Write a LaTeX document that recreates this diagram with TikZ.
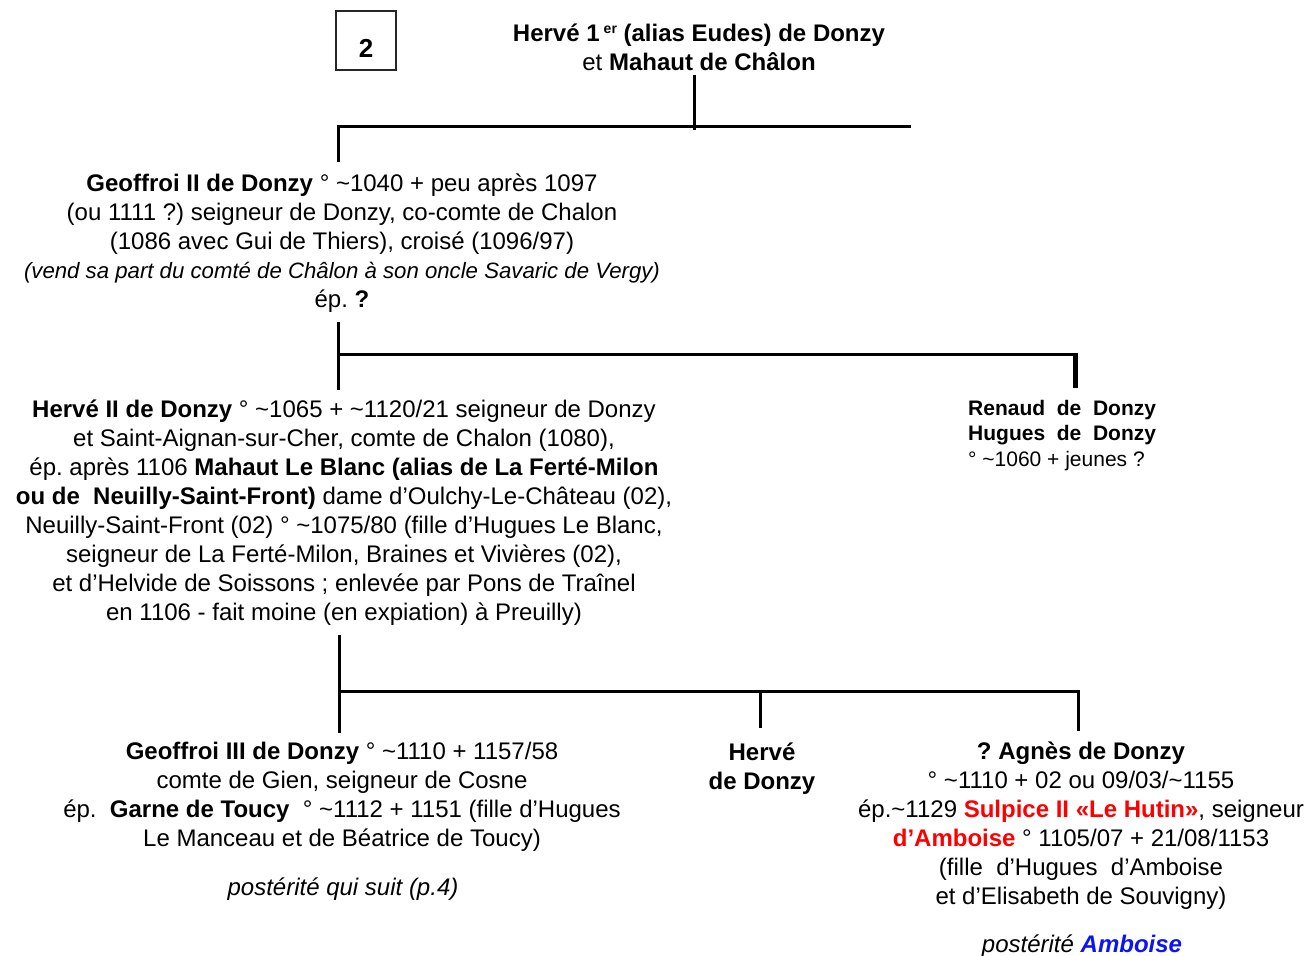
\documentclass[tikz,border=0pt]{standalone}
\usepackage{fontspec}
\setmainfont{Liberation Sans}
\usepackage{xcolor}
\definecolor{redA}{RGB}{255,0,0}
\definecolor{blueA}{RGB}{10,20,245}
\newcommand\tld{\textasciitilde}
\frenchspacing
\begin{document}
\begin{tikzpicture}[x=1pt,y=-1pt,
  txt/.style={inner sep=0pt, align=center, font=\fontsize{24}{29}\selectfont, anchor=base},
  small/.style={inner sep=0pt, align=left, font=\fontsize{21}{25.5}\selectfont, anchor=base west},
  conn/.style={line width=3pt, line cap=butt, line join=miter},
  numbox/.style={draw=black!85, line width=1.2pt, minimum width=60pt, minimum height=59pt, inner sep=0pt}]
\useasboundingbox (0,0) rectangle (1310,956);

% page number box
\node[numbox] (box) at (366,40.5) {};
\node[inner sep=0pt, font=\fontsize{26}{30}\selectfont\bfseries] (two) at (366,48) {2};

% texts (anchor = baseline of the last line)
\node[txt] (h1) at (699,70) {\textbf{Hervé 1\,{\fontsize{14}{14}\selectfont\raisebox{8pt}{er}} (alias Eudes) de Donzy}\\ et \textbf{Mahaut de Châlon}};

\node[txt] (g2) at (342,307) {\textbf{Geoffroi II de Donzy} ° \tld1040 + peu après 1097\\
(ou 1111 ?) seigneur de Donzy, co-comte de Chalon\\
(1086 avec Gui de Thiers), croisé (1096/97)\\
{\fontsize{22.2}{29}\selectfont\itshape (vend sa part du comté de Châlon à son oncle Savaric de Vergy)}\\
ép. \textbf{?}};

\node[txt] (h2) at (344,620) {\textbf{Hervé II de Donzy} ° \tld1065 + \tld1120/21 seigneur de Donzy\\
et Saint-Aignan-sur-Cher, comte de Chalon (1080),\\
ép. après 1106 \textbf{Mahaut Le Blanc (alias de La Ferté-Milon}\\
\textbf{ou de\ \ Neuilly-Saint-Front)} dame d’Oulchy-Le-Château (02),\\
Neuilly-Saint-Front (02) ° \tld1075/80 (fille d’Hugues Le Blanc,\\
seigneur de La Ferté-Milon, Braines et Vivières (02),\\
et d’Helvide de Soissons ; enlevée par Pons de Traînel\\
en 1106 - fait moine (en expiation) à Preuilly)};

\node[small] (rn) at (968,466) {\textbf{Renaud\ \ de\ \ Donzy}\\ \textbf{Hugues\ \ de\ \ Donzy}\\ ° \tld1060 + jeunes ?};

\node[txt] (g3) at (342,846) {\textbf{Geoffroi III de Donzy} ° \tld1110 + 1157/58\\
comte de Gien, seigneur de Cosne\\
ép.\ \ \textbf{Garne de Toucy}\ \ ° \tld1112 + 1151 (fille d’Hugues\\
Le Manceau et de Béatrice de Toucy)};
\node[txt] (g3p) at (343,895) {\itshape postérité qui suit (p.4)};

\node[txt] (hd) at (762,789) {\textbf{Hervé}\\ \textbf{de Donzy}};

\node[txt] (ag) at (1081,904) {\textbf{? Agnès de Donzy}\\
° \tld1110 + 02 ou 09/03/\tld1155\\
ép.\tld1129 \textcolor{redA}{\textbf{Sulpice II «Le Hutin»}}, seigneur\\
\textcolor{redA}{\textbf{d’Amboise}} ° 1105/07 + 21/08/1153\\
(fille\ \ d’Hugues\ \ d’Amboise\\
et d’Elisabeth de Souvigny)};
\node[txt] (agp) at (1082,952) {\itshape postérité \textcolor{blueA}{\bfseries Amboise}};

% connectors
\coordinate (h1b) at (694,75);
\coordinate (h1c) at (694,130);
\coordinate (b1R) at (911,126.5);
\coordinate (g2t) at (338.5,162);
\draw[conn] (h1b) -- (h1c);
\draw[conn] (g2t) |- (b1R);

\coordinate (g2b) at (338.5,322);
\coordinate (g2e) at (338.5,390);
\coordinate (b2R) at (1075.5,354.5);
\coordinate (rnt) at (1075.5,388);
\draw[conn] (g2b) -- (g2e);
\draw[conn] (g2b |- b2R) -- (b2R);
\draw[conn, line width=5.5pt] (1075.5,353) -- (rnt);

\coordinate (h2b) at (339.3,635);
\coordinate (h2e) at (339.3,733);
\coordinate (b3R) at (1078.3,691.3);
\coordinate (hdt) at (760.5,728);
\coordinate (agt) at (1078.3,731);
\draw[conn] (h2b) -- (h2e);
\draw[conn] (h2b |- b3R) -- (b3R) -- (agt);
\draw[conn] (hdt |- b3R) -- (hdt);
\end{tikzpicture}
\end{document}
